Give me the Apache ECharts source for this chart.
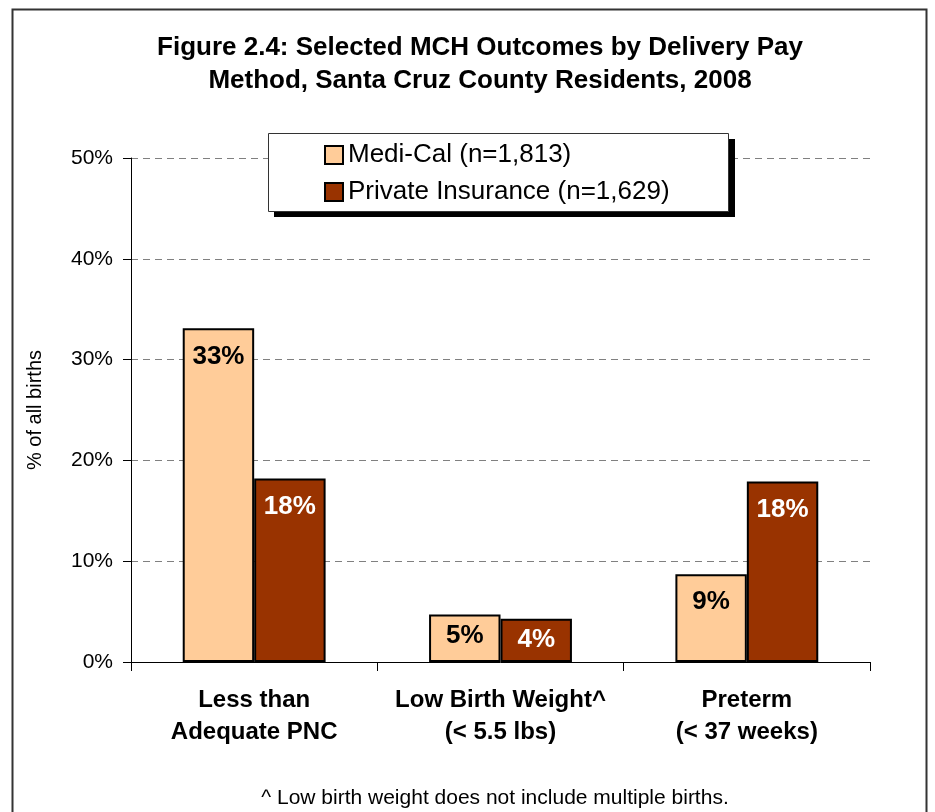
<!DOCTYPE html>
<html>
<head>
<meta charset="utf-8">
<script src="https://cdn.jsdelivr.net/npm/echarts@6/dist/echarts.min.js"></script>
<style>
  html, body { margin: 0; padding: 0; background: #fff; }
  #chart { width: 935px; height: 812px; }
</style>
</head>
<body>
<div id="chart"></div>
<script>
// data
var categories = ['Less than\nAdequate PNC', 'Low Birth Weight^\n(< 5.5 lbs)', 'Preterm\n(< 37 weeks)']
var mediCal = [33.1, 4.7, 8.7]
var privateIns = [18.2, 4.3, 17.9]
var seriesNames = ['Medi-Cal (n=1,813)', 'Private Insurance (n=1,629)']
var yTicks = [0, 10, 20, 30, 40, 50]

var font = "'Liberation Sans', Arial, sans-serif"

// label distance a bit smaller for the short bars
function toData(arr) {
	return arr.map(function (v) {
		return { value: v, label: { distance: v < 6 ? 8 : 15 } }
	})
}

var myChart = echarts.init(document.getElementById('chart'))

var option = {
	animation: false,
	backgroundColor: '#fff',
	textStyle: { fontFamily: font },
	title: {
		text: 'Figure 2.4: Selected MCH Outcomes by Delivery Pay\nMethod, Santa Cruz County Residents, 2008',
		left: 480,
		top: 31,
		padding: 0,
		textAlign: 'center',
		textStyle: { fontFamily: font, fontSize: 26, fontWeight: 'bold', color: '#000', lineHeight: 33 }
	},
	legend: {
		orient: 'vertical',
		left: 324,
		top: 142,
		z: 10,
		icon: 'rect',
		itemWidth: 18,
		itemHeight: 18,
		itemGap: 11,
		padding: 0,
		textStyle: { fontFamily: font, fontSize: 26, color: '#000', lineHeight: 26 },
		data: seriesNames
	},
	grid: { left: 131, right: 65, top: 158, bottom: 150 },
	xAxis: {
		type: 'category',
		data: categories,
		axisLine: { lineStyle: { color: '#000', width: 1 } },
		axisTick: { show: true, length: 9, lineStyle: { color: '#000' } },
		axisLabel: {
			margin: 22, interval: 0, color: '#000', fontFamily: font,
			fontSize: 24, fontWeight: 'bold', lineHeight: 32
		}
	},
	yAxis: {
		type: 'value',
		min: yTicks[0],
		max: yTicks[yTicks.length - 1],
		interval: 10,
		name: '% of all births',
		nameLocation: 'middle',
		nameGap: 86,
		nameRotate: 90,
		nameTextStyle: { fontFamily: font, fontSize: 20, color: '#000' },
		axisLine: { show: true, lineStyle: { color: '#000', width: 1 } },
		axisTick: { show: true, length: 8, lineStyle: { color: '#000' } },
		axisLabel: { formatter: '{value}%', margin: 18, color: '#000', fontFamily: font, fontSize: 21 },
		splitLine: { show: true, lineStyle: { color: '#808080', type: [7, 5], width: 1 } }
	},
	series: [
		{
			name: seriesNames[0],
			type: 'bar',
			barGap: '0%',
			barCategoryGap: '42%',
			data: toData(mediCal),
			itemStyle: { color: '#FFCC99', borderColor: '#000', borderWidth: 2 },
			label: {
				show: true, position: 'insideTop', color: '#000',
				fontFamily: font, fontSize: 26, fontWeight: 'bold',
				formatter: function (p) { return Math.round(p.value) + '%' }
			}
		},
		{
			name: seriesNames[1],
			type: 'bar',
			data: toData(privateIns),
			itemStyle: { color: '#993300', borderColor: '#000', borderWidth: 2 },
			label: {
				show: true, position: 'insideTop', color: '#fff',
				fontFamily: font, fontSize: 26, fontWeight: 'bold',
				formatter: function (p) { return Math.round(p.value) + '%' }
			}
		}
	],
	graphic: [
		// outer frame
		{ type: 'rect', z: 1, shape: { x: 12.5, y: 9.5, width: 914, height: 900 },
			style: { fill: 'none', stroke: '#333', lineWidth: 2 } },
		// legend box with drop shadow
		{ type: 'rect', z: 5, shape: { x: 274, y: 139, width: 461, height: 78 },
			style: { fill: '#000' } },
		{ type: 'rect', z: 6, shape: { x: 268.5, y: 133.5, width: 460, height: 78 },
			style: { fill: '#fff', stroke: '#333', lineWidth: 1 } },
		// footnote
		{ type: 'text', z: 6, x: 495, y: 798,
			style: { text: '^ Low birth weight does not include multiple births.',
				fill: '#000', font: '21px ' + font, align: 'center', verticalAlign: 'middle' } }
	]
}

myChart.setOption(option)
</script>
</body>
</html>
